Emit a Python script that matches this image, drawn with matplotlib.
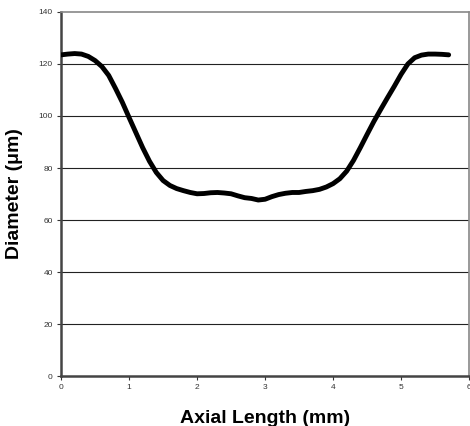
import matplotlib.pyplot as plt
import numpy as np

plt.rcParams['font.family'] = ['Liberation Sans', 'DejaVu Sans']

axial_length = np.array([0.0, 0.1, 0.2, 0.3, 0.4, 0.5, 0.6, 0.7, 0.8, 0.9,
                         1.0, 1.1, 1.2, 1.3, 1.4, 1.5, 1.6, 1.7, 1.8, 1.9,
                         2.0, 2.1, 2.2, 2.3, 2.4, 2.5, 2.6, 2.7, 2.8, 2.9,
                         3.0, 3.1, 3.2, 3.3, 3.4, 3.5, 3.6, 3.7, 3.8, 3.9,
                         4.0, 4.1, 4.2, 4.3, 4.4, 4.5, 4.6, 4.7, 4.8, 4.9,
                         5.0, 5.1, 5.2, 5.3, 5.4, 5.5, 5.6, 5.7])
diameter = np.array([123.5, 123.8, 124.0, 123.8, 122.9, 121.3, 119.0, 115.6, 110.6, 105.3,
                     99.4, 93.6, 87.8, 82.6, 78.3, 75.2, 73.3, 72.1, 71.3, 70.6,
                     70.1, 70.2, 70.5, 70.6, 70.4, 70.1, 69.3, 68.6, 68.3, 67.7,
                     68.0, 69.0, 69.8, 70.3, 70.6, 70.6, 71.0, 71.3, 71.8, 72.7,
                     74.0, 75.9, 78.8, 82.9, 87.8, 92.9, 97.9, 102.5, 107.0, 111.4,
                     116.0, 120.0, 122.4, 123.4, 123.8, 123.8, 123.7, 123.5])

x_ticks = [0, 1, 2, 3, 4, 5, 6]
y_ticks = [0, 20, 40, 60, 80, 100, 120, 140]

fig = plt.figure(figsize=(4.7, 4.26), dpi=100)
ax = fig.add_axes([0.13, 0.117, 0.868, 0.855])

# horizontal gridlines
for y in y_ticks[1:-1]:
    ax.axhline(y=y, color='#222222', lw=0.8, zorder=1)

ax.plot(axial_length, diameter, color='black', lw=3.5,
        solid_capstyle='round', solid_joinstyle='round', zorder=3)

ax.set_xlim(0, 6)
ax.set_ylim(0, 140)
ax.set_xticks(x_ticks)
ax.set_yticks(y_ticks)
ax.tick_params(direction='out', length=3, width=0.8, labelsize=6, pad=3, colors='#333333')

ax.spines['left'].set_color('#444444')
ax.spines['left'].set_linewidth(1.8)
ax.spines['bottom'].set_color('#444444')
ax.spines['bottom'].set_linewidth(1.8)
ax.spines['top'].set_color('#888888')
ax.spines['top'].set_linewidth(1.2)
ax.spines['right'].set_color('#888888')
ax.spines['right'].set_linewidth(1.2)

ax.set_xlabel('Axial Length (mm)', fontsize=14, fontweight='bold', labelpad=13)
ax.set_ylabel('Diameter (μm)', fontsize=14, fontweight='bold', labelpad=11)

plt.savefig('out.png', dpi=100)
